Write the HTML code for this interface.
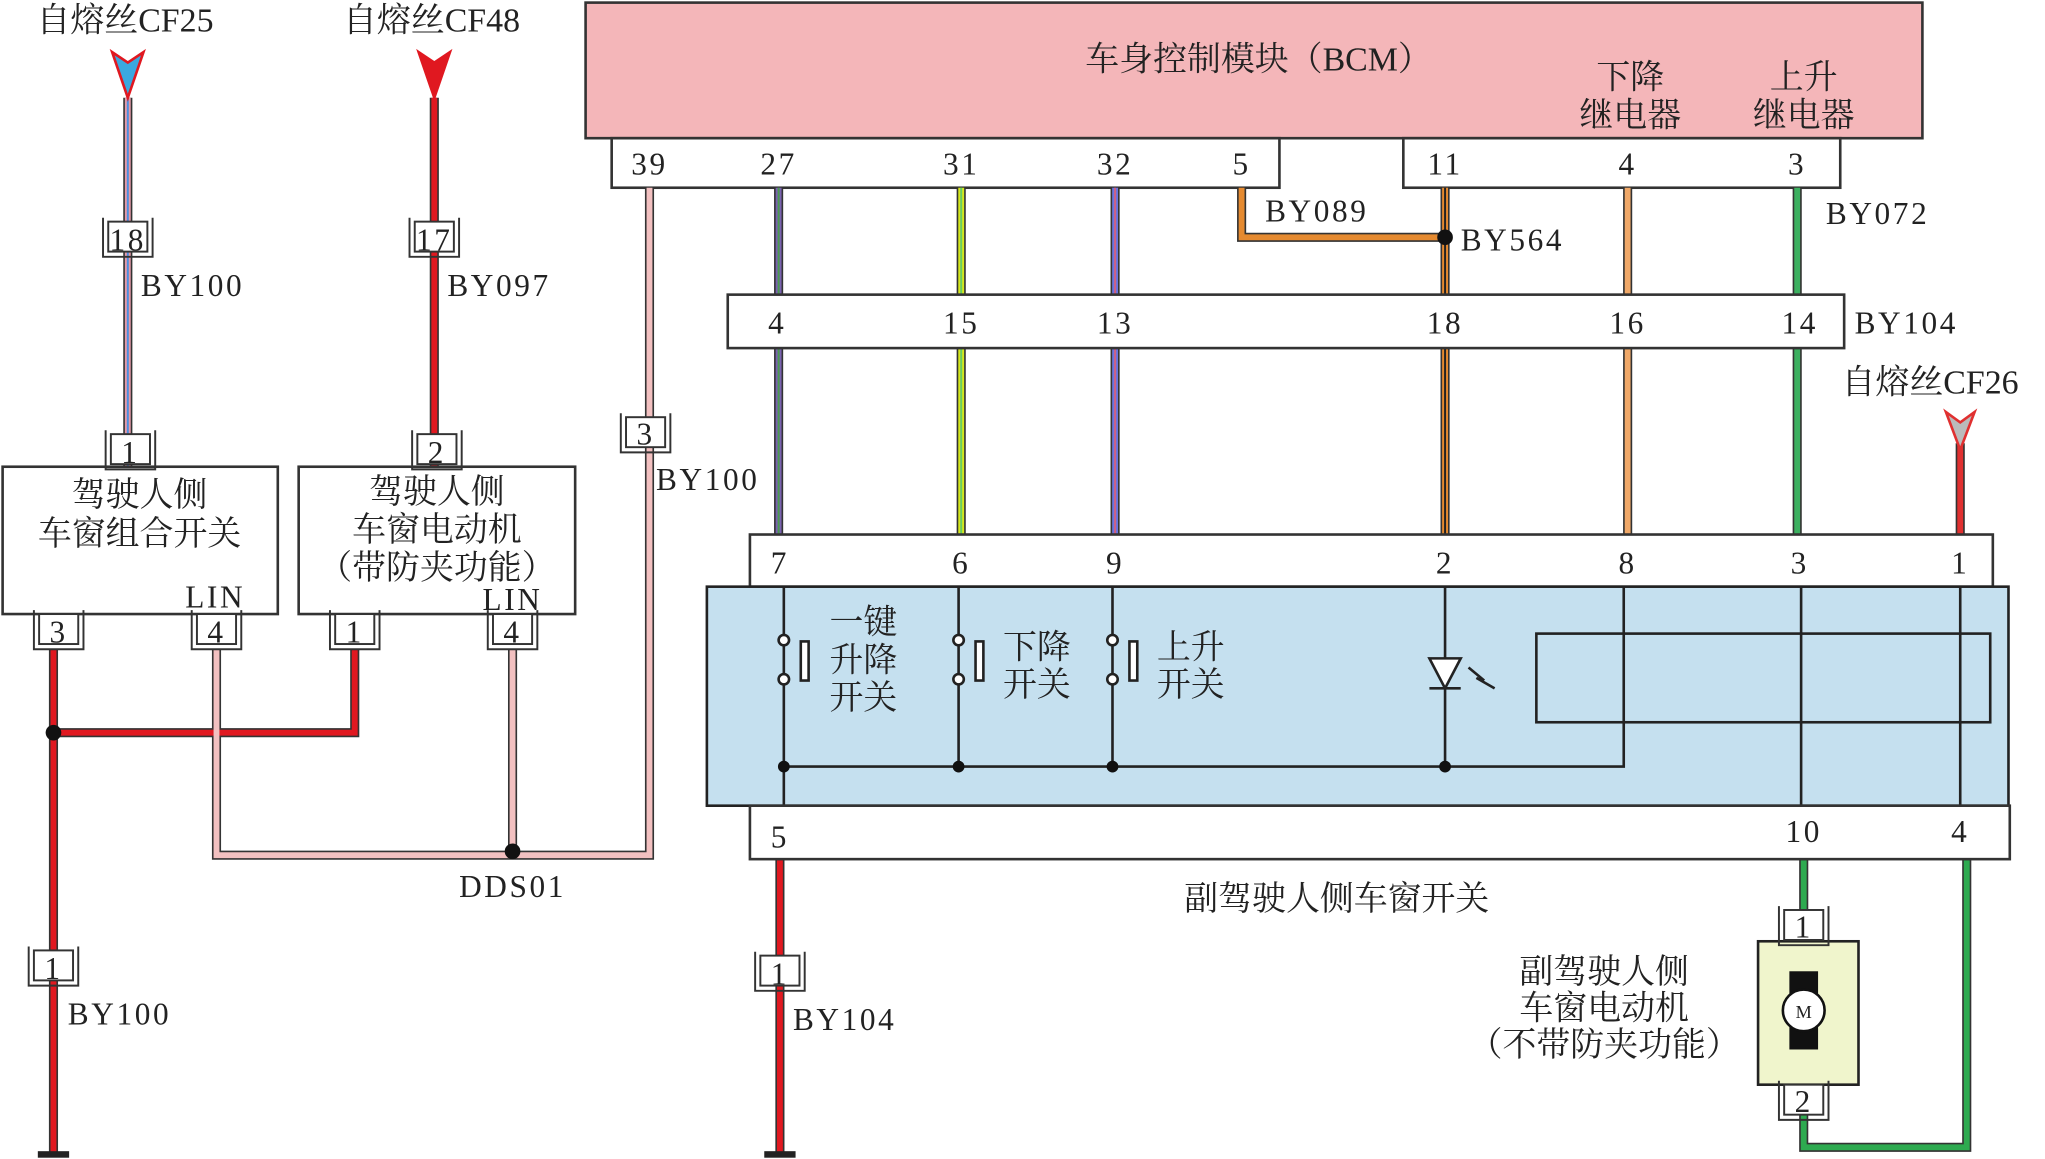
<!DOCTYPE html>
<html><head><meta charset="utf-8"><style>
html,body{margin:0;padding:0;background:#fff;overflow:hidden}
svg{display:block}
text{font-family:"Liberation Serif","Noto Serif CJK SC",serif;fill:#222}
.c{font-size:26px}
.n{font-size:24px;letter-spacing:2px}
.m{text-anchor:middle}
</style></head><body>
<svg width="2045" height="1159" viewBox="0 0 1568 889" preserveAspectRatio="none" xmlns="http://www.w3.org/2000/svg">
<defs>
<g id="cn"><path d="M-19,-16 V14 H19 V-16" fill="none" stroke="#333" stroke-width="1.5"/><rect x="-15" y="-13" width="30" height="23" fill="#fff" stroke="#333" stroke-width="1.5"/></g>
</defs>
<!-- BCM -->
<rect x="449" y="2" width="1025" height="104" fill="#f4b6b9" stroke="#333" stroke-width="2"/>
<text x="965" y="54" class="c m">车身控制模块（BCM）</text>
<text x="1250" y="68" class="c m">下降</text><text x="1250" y="97" class="c m">继电器</text>
<text x="1383" y="68" class="c m">上升</text><text x="1383" y="97" class="c m">继电器</text>
<rect x="469" y="106" width="512" height="38" fill="#fff" stroke="#333" stroke-width="2"/>
<rect x="1076" y="106" width="335" height="38" fill="#fff" stroke="#333" stroke-width="2"/>
<g class="n m">
<text x="498" y="134" class="n m">39</text><text x="597" y="134" class="n m">27</text><text x="737" y="134" class="n m">31</text><text x="855" y="134" class="n m">32</text><text x="952" y="134" class="n m">5</text><text x="1108" y="134" class="n m">11</text><text x="1248" y="134" class="n m">4</text><text x="1378" y="134" class="n m">3</text>
</g>
<!-- wires group: outline then color -->
<g fill="none" stroke="#333" stroke-width="7">
<path d="M597,144 V226 M597,267 V410 M737,144 V226 M737,267 V410 M855,144 V226 M855,267 V410 M1108,144 V226 M1108,267 V410 M1248,144 V226 M1248,267 V410 M1378,144 V226 M1378,267 V410 M952,144 V182 H1108"/>
<path d="M1503,340 V410"/>
<path d="M98,75 V358 M333,75 V358"/>
<path d="M41,498 V885 M41,562 H272 V498"/>
<path d="M166,498 V656 H498 V144 M393,498 V652"/>
<path d="M598,659 V885"/>
<path d="M1383,659 V722 M1383,832 V880 H1508 V659"/>
</g>
<g fill="none" stroke-width="4.5">
<path d="M597,144 V226 M597,267 V410" stroke="#7a62b0"/>
<path d="M737,144 V226 M737,267 V410" stroke="#d6e81c"/>
<path d="M855,144 V226 M855,267 V410" stroke="#6a74e0"/>
<path d="M1108,144 V226 M1108,267 V410 M952,144 V182 H1108" stroke="#e58a30"/>
<path d="M1248,144 V226 M1248,267 V410" stroke="#f0a868"/>
<path d="M1378,144 V226 M1378,267 V410" stroke="#3cb060"/>
<path d="M1503,340 V410" stroke="#e03030"/>
<path d="M98,75 V358" stroke="#e69aa8"/>
<path d="M333,75 V358" stroke="#e01820"/>
<path d="M41,498 V885 M41,562 H272 V498" stroke="#e01820"/>
<path d="M166,498 V656 H498 V144 M393,498 V652" stroke="#f2c0c0"/>
<path d="M598,659 V885" stroke="#e01820"/>
<path d="M1383,659 V722 M1383,832 V880 H1508 V659" stroke="#2eaa50"/>
</g>
<g fill="none" stroke-width="1.5">
<path d="M597,144 V226 M597,267 V410" stroke="#4a9a50"/>
<path d="M737,144 V226 M737,267 V410" stroke="#6c6"/>
<path d="M855,144 V226 M855,267 V410" stroke="#d06080"/>
<path d="M1108,144 V226 M1108,267 V410" stroke="#222"/>
<path d="M98,75 V358" stroke="#4a8ee0"/>
</g>
<circle cx="1108" cy="182" r="6" fill="#111"/>
<text x="970" y="170" class="n">BY089</text>
<text x="1120" y="192" class="n">BY564</text>
<text x="1400" y="172" class="n">BY072</text>
<!-- BY104 strip -->
<rect x="558" y="226" width="856" height="41" fill="#fff" stroke="#333" stroke-width="2"/>
<text x="596" y="256" class="n m">4</text><text x="737" y="256" class="n m">15</text><text x="855" y="256" class="n m">13</text><text x="1108" y="256" class="n m">18</text><text x="1248" y="256" class="n m">16</text><text x="1380" y="256" class="n m">14</text>
<text x="1422" y="256" class="n">BY104</text>
<text x="1412" y="302" class="c">自熔丝CF26</text>
<path d="M1492,316 L1503,345 L1514,316 L1503,324 Z" fill="#bbb" stroke="#e03030" stroke-width="2"/>
<!-- switch -->
<rect x="575" y="410" width="953" height="40" fill="#fff" stroke="#333" stroke-width="2"/>
<text x="598" y="440" class="n m">7</text><text x="737" y="440" class="n m">6</text><text x="855" y="440" class="n m">9</text><text x="1108" y="440" class="n m">2</text><text x="1248" y="440" class="n m">8</text><text x="1380" y="440" class="n m">3</text><text x="1503" y="440" class="n m">1</text>
<rect x="542" y="450" width="998" height="168" fill="#c5e0ef" stroke="#222" stroke-width="2"/>
<g stroke="#222" stroke-width="2" fill="none">
<path d="M601,450 V618 M735,450 V588 M853,450 V588 M1108,450 V588 M601,588 H1245 V450 M1381,450 V618 M1503,450 V618"/>
<rect x="1178" y="486" width="348" height="68"/>
<rect x="614" y="492" width="6" height="30" fill="#fff"/>
<rect x="748" y="492" width="6" height="30" fill="#fff"/>
<rect x="866" y="492" width="6" height="30" fill="#fff"/>
<path d="M1096,505 H1120 L1108,528 Z M1096,528 H1120" fill="#fff"/>
<path d="M1126,512 L1138,522 M1132,520 L1146,528"/>
</g>
<g fill="#fff" stroke="#222" stroke-width="2">
<circle cx="601" cy="491" r="4"/><circle cx="601" cy="521" r="4"/>
<circle cx="735" cy="491" r="4"/><circle cx="735" cy="521" r="4"/>
<circle cx="853" cy="491" r="4"/><circle cx="853" cy="521" r="4"/>
</g>
<g fill="#111"><circle cx="601" cy="588" r="4.5"/><circle cx="735" cy="588" r="4.5"/><circle cx="853" cy="588" r="4.5"/><circle cx="1108" cy="588" r="4.5"/></g>
<text x="662" y="486" class="c m">一键</text><text x="662" y="515" class="c m">升降</text><text x="662" y="544" class="c m">开关</text>
<text x="795" y="505" class="c m">下降</text><text x="795" y="534" class="c m">开关</text>
<text x="913" y="505" class="c m">上升</text><text x="913" y="534" class="c m">开关</text>
<rect x="575" y="618" width="966" height="41" fill="#fff" stroke="#333" stroke-width="2"/>
<text x="598" y="650" class="n m">5</text><text x="1383" y="646" class="n m">10</text><text x="1503" y="646" class="n m">4</text>
<text x="1025" y="698" class="c m">副驾驶人侧车窗开关</text>
<!-- motor -->
<rect x="1348" y="722" width="77" height="110" fill="#f0f5cc" stroke="#222" stroke-width="2"/>
<rect x="1372" y="745" width="22" height="60" fill="#111"/>
<circle cx="1383" cy="775" r="16" fill="#fff" stroke="#111" stroke-width="2"/>
<text x="1383" y="781" font-size="14" class="m">M</text>
<use href="#cn" x="1383" y="711"/><text x="1383" y="719" class="n m">1</text>
<use href="#cn" x="1383" y="845"/><text x="1383" y="853" class="n m">2</text>
<text x="1230" y="754" class="c m">副驾驶人侧</text><text x="1230" y="782" class="c m">车窗电动机</text><text x="1230" y="810" class="c m">（不带防夹功能）</text>
<!-- left -->
<text x="28" y="24" class="c">自熔丝CF25</text>
<text x="263" y="24" class="c">自熔丝CF48</text>
<path d="M86,40 L98,75 L110,40 L98,48 Z" fill="#3aa8e0" stroke="#e01820" stroke-width="2"/>
<path d="M321,40 L333,75 L345,40 L333,48 Z" fill="#e01820" stroke="#e01820" stroke-width="2"/>
<use href="#cn" x="98" y="183"/><text x="98" y="192" class="n m">18</text>
<text x="108" y="227" class="n">BY100</text>
<use href="#cn" x="333" y="183"/><text x="333" y="192" class="n m">17</text>
<text x="343" y="227" class="n">BY097</text>
<rect x="2" y="358" width="211" height="113" fill="#fff" stroke="#333" stroke-width="2"/>
<rect x="229" y="358" width="212" height="113" fill="#fff" stroke="#333" stroke-width="2"/>
<use href="#cn" x="100" y="346"/><text x="100" y="355" class="n m">1</text>
<use href="#cn" x="335" y="346"/><text x="335" y="355" class="n m">2</text>
<text x="107" y="388" class="c m">驾驶人侧</text><text x="107" y="418" class="c m">车窗组合开关</text>
<text x="335" y="386" class="c m">驾驶人侧</text><text x="335" y="415" class="c m">车窗电动机</text><text x="335" y="444" class="c m">（带防夹功能）</text>
<text x="165" y="466" class="n m">LIN</text><text x="393" y="468" class="n m">LIN</text>
<use href="#cn" x="45" y="484"/><text x="45" y="493" class="n m">3</text>
<use href="#cn" x="166" y="484"/><text x="166" y="493" class="n m">4</text>
<use href="#cn" x="272" y="484"/><text x="272" y="493" class="n m">1</text>
<use href="#cn" x="393" y="484"/><text x="393" y="493" class="n m">4</text>
<circle cx="41" cy="562" r="6" fill="#111"/>
<circle cx="393" cy="653" r="6" fill="#111"/>
<text x="393" y="688" class="n m">DDS01</text>
<use href="#cn" x="495" y="333"/><text x="495" y="341" class="n m">3</text>
<text x="503" y="376" class="n">BY100</text>
<use href="#cn" x="41" y="742"/><text x="41" y="751" class="n m">1</text>
<text x="52" y="786" class="n">BY100</text>
<use href="#cn" x="598" y="746"/><text x="598" y="755" class="n m">1</text>
<text x="608" y="790" class="n">BY104</text>
<rect x="29" y="883" width="24" height="5" fill="#222"/>
<rect x="586" y="883" width="24" height="5" fill="#222"/>
</svg>
</body></html>
